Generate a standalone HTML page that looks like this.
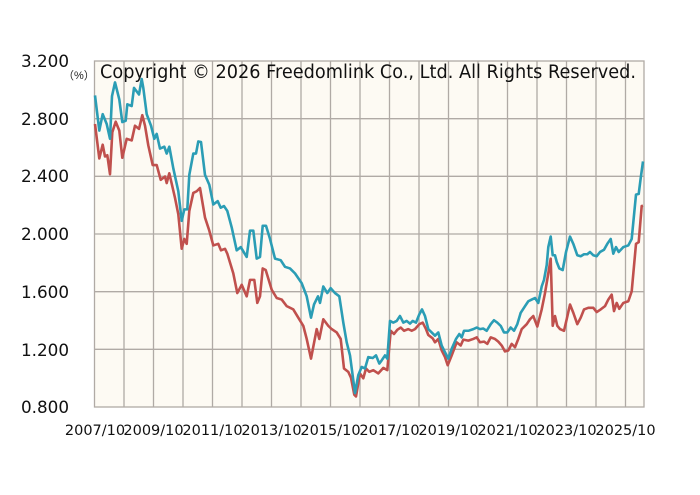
<!DOCTYPE html>
<html><head><meta charset="utf-8"><style>
html,body{margin:0;padding:0;background:#fff;}
svg{display:block;font-family:"DejaVu Sans","Liberation Sans",sans-serif;}
</style></head><body>
<svg width="700" height="495" viewBox="0 0 700 495" xmlns="http://www.w3.org/2000/svg">
<rect x="94.5" y="61" width="549.5" height="346" fill="#fdfaf3"/>
<g stroke="#b0aaa5" stroke-width="1.3" fill="none">
<line x1="95" y1="118.7" x2="644" y2="118.7"/>
<line x1="95" y1="176.3" x2="644" y2="176.3"/>
<line x1="95" y1="234" x2="644" y2="234"/>
<line x1="95" y1="291.7" x2="644" y2="291.7"/>
<line x1="95" y1="349.3" x2="644" y2="349.3"/>
<line x1="124" y1="61" x2="124" y2="407"/><line x1="153.5" y1="61" x2="153.5" y2="407"/>
<line x1="183" y1="61" x2="183" y2="407"/><line x1="212.5" y1="61" x2="212.5" y2="407"/>
<line x1="242" y1="61" x2="242" y2="407"/><line x1="271.5" y1="61" x2="271.5" y2="407"/>
<line x1="301" y1="61" x2="301" y2="407"/><line x1="330.5" y1="61" x2="330.5" y2="407"/>
<line x1="360" y1="61" x2="360" y2="407"/><line x1="389.5" y1="61" x2="389.5" y2="407"/>
<line x1="419" y1="61" x2="419" y2="407"/><line x1="448.5" y1="61" x2="448.5" y2="407"/>
<line x1="478" y1="61" x2="478" y2="407"/><line x1="507.5" y1="61" x2="507.5" y2="407"/>
<line x1="537" y1="61" x2="537" y2="407"/><line x1="566.5" y1="61" x2="566.5" y2="407"/>
<line x1="596" y1="61" x2="596" y2="407"/><line x1="625.5" y1="61" x2="625.5" y2="407"/>
<rect x="94.5" y="61" width="549.5" height="346"/>
</g>
<g fill="none" stroke-width="2.6" stroke-linejoin="round" transform="translate(0,61) scale(1,0.9846) translate(0,-61)">
<polyline stroke="#c0504d" points="95,125 99.3,160 102.7,146 105,158 107.3,156.7 110,176 112.3,133.3 115.7,122.7 119.3,131.7 122.3,159.3 126.7,140 131.7,141.7 135,126.7 139,130 142.3,116 145,126.7 148.3,146.7 152.7,166.7 156.7,166.7 160.7,181.7 165,178.3 166.7,185 169.3,175 175,200 178.3,216.7 181.7,251.7 184.3,241.7 186.7,246.7 189.3,213.3 193.3,195 196.7,193.3 200,190 205,220 209.3,233.3 213.3,248.3 218.3,246.7 221,253.3 225,251.7 227.3,256.7 233.3,276.7 237.3,296.7 241.7,288.3 246.7,300 250,283.3 254.3,283.3 257.3,306.7 260,300 262.7,271.7 265.7,273.3 271.7,293.3 276.7,301.7 281.7,303.3 286.7,310 293.3,313.3 298.3,321.7 303.3,330 306.7,343.3 311,363.3 316.7,333.3 319.3,343.3 323.3,323.3 328.3,330 331.7,333.3 336.7,336.7 340.7,343.3 344,373.3 348.3,376.7 351,382.7 354.3,400 356,401.7 360,378.3 363.3,383.3 366,373.3 369.3,376.7 373.3,375 378.3,378.3 383.3,372.7 387.3,375 390.7,335 394,338.3 397.3,334 400.7,331.7 404,335 408.3,333.3 411.7,335 415,333.3 419.3,328.3 422.7,326.7 426,333.3 428.3,339.3 432.7,342.7 435,346.7 438.3,343.3 441.7,355 445,361.7 447.7,370 451.7,360 456.7,346.7 460.7,350 463.3,344 468.3,345 473.3,343.3 476.7,341.7 480,346.7 484,346 487.3,348.3 490.7,341.7 495,343.3 498.3,346 501.7,350 505,356 508.3,355 511.7,348.3 515,351.7 518.3,343.3 521.7,333.3 526.7,328.3 530,323.3 533.3,320 537.3,330.7 541.7,313.3 545,296.7 548.3,276.7 550.7,261.7 552.7,330 555,320 557.3,330 560,333.3 564,335 566.7,323.3 570,308.3 573.3,316.7 577.3,328.3 580.7,321.7 584,313.3 588.3,311.7 593.3,311.7 596.7,316 600.7,313.3 605,310 608.3,303.3 611.7,298.3 614,315 616.7,306.7 619.3,312.7 623.3,306.7 628.3,305 631.7,295 636,246.7 638.7,245 641.7,208.3 643,208"/>
<polyline stroke="#2b9db5" points="95,96 99.3,131.7 102.7,115 106.7,125 110,140 112,96.7 115,82.7 119.3,100 122.3,123 125.7,121.7 127.3,105 131.7,106.7 134,88.3 139,95 141.7,79.3 143.3,88.3 146.7,115 151,126.7 154.3,140 156.7,135 160,150 164.3,148 166.7,155 169.3,148 173.3,170 178.3,193.3 181.7,223.3 184.3,211.7 187.3,211.7 189.3,176.7 193.3,155 196,155 198.3,142.7 201,143.3 205,176.7 209.3,186.7 213.3,206.7 217.7,203.3 220.7,210 224,208.3 227.3,213.3 231.7,230 236.7,253.3 240.7,250 246.7,260 250,233.3 253.3,233.3 256.7,261.7 260,260 262.7,228.3 266,228.3 270,241.7 275,261.7 280.7,263.3 285,270 290,271.7 295,276.7 301.7,286.7 306.7,300 311,321.7 314,308.3 318,300 320,306.7 323.3,290 327.3,296.7 330.7,291.7 335,296.7 339.3,300 343.3,326.7 346.7,346.7 350,360 355,398.3 358.3,380 361.7,371.7 365,373.3 368.3,361.7 372.7,362.7 376,360 379.3,368.3 381.7,365 385,360 387.3,363.3 390,325 393.3,326.7 396.7,325 400,320 403.3,326.7 406.7,325 410,327.7 412.7,325 416,326.7 419.3,318.3 422,313.3 425,320 428.3,333.3 431.7,336.7 435,340 438.3,336.7 441.7,350 445,356.7 448.3,363.3 451.7,353.3 456,343.3 459.3,338.3 461.7,341.7 464,335 468.3,335 473.3,333.3 476.7,331.7 480,333.3 483.3,332.7 486.7,335 490.7,328.3 494,324.3 497.3,326.7 500.7,330 504,336.7 507.3,336.7 510.7,331.7 514,335 517.3,328.3 520.7,316.7 525,310 528.3,305 531.7,303.3 535,301.7 538.3,306.7 541.7,290 544,283.3 546.7,268.3 548.3,250 550.7,239.3 552.7,258.3 555,258.3 556.7,265 559.3,271.7 562.7,273.3 566,255 570,239.3 573.3,246.7 577.3,258.3 580.7,259.3 584,257.3 587.3,257.3 590,255 593.3,258.3 596.7,259.3 600,255 604,252.7 607.3,246.7 610.7,241.7 613.3,256.7 616,250 618.7,255 623.3,250 628.3,248.3 631.7,241.7 636,196.7 638.7,196 640.7,180 643,163"/>
</g>
<text x="100" y="78" font-size="18.5" fill="#111" textLength="536" lengthAdjust="spacingAndGlyphs">Copyright © 2026 Freedomlink Co., Ltd. All Rights Reserved.</text>
<text x="63" y="79" font-size="11" fill="#222" font-family="'Liberation Sans','Noto Sans CJK JP',sans-serif">（%）</text>
<g font-size="16.8" fill="#111" text-anchor="end">
<text x="69" y="67">3.200</text>
<text x="69" y="125">2.800</text>
<text x="69" y="182">2.400</text>
<text x="69" y="240">2.000</text>
<text x="69" y="298">1.600</text>
<text x="69" y="356">1.200</text>
<text x="69" y="413">0.800</text>
</g>
<g font-size="14.5" fill="#111" text-anchor="middle">
<text x="95" y="435">2007/10</text>
<text x="153.5" y="435">2009/10</text>
<text x="212.5" y="435">2011/10</text>
<text x="271.5" y="435">2013/10</text>
<text x="330.5" y="435">2015/10</text>
<text x="389.5" y="435">2017/10</text>
<text x="448.5" y="435">2019/10</text>
<text x="507.5" y="435">2021/10</text>
<text x="566.5" y="435">2023/10</text>
<text x="625.5" y="435">2025/10</text>
</g>
</svg>
</body></html>
